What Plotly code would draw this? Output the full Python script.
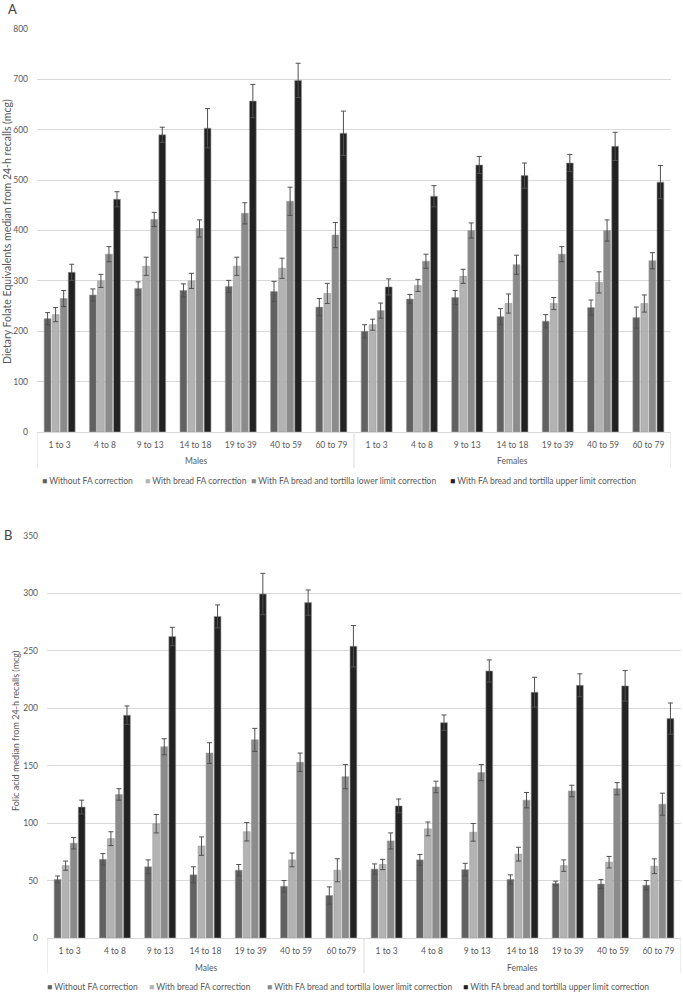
import plotly.graph_objects as go

W, H = 683, 992

ages = ["1 to 3", "4 to 8", "9 to 13", "14 to 18", "19 to 39", "40 to 59", "60 to 79"]
ages_b_males = ["1 to 3", "4 to 8", "9 to 13", "14 to 18", "19 to 39", "40 to 59", "60 to79"]
sexes = ["Males", "Females"]
series_names = [
    "Without FA correction",
    "With bread FA correction",
    "With FA bread and tortilla lower limit correction",
    "With FA bread and tortilla upper limit correction",
]
series_colors = ["#616161", "#b3b3b3", "#8b8b8b", "#222222"]

# Panel A: Dietary Folate Equivalents (mcg), Males then Females
dfe_without = [225, 272, 285, 281, 289, 279, 248, 200, 264, 267, 229, 220, 247, 227]
dfe_without_err = [12, 12, 13, 13, 12, 20, 17, 13, 9, 14, 16, 13, 15, 21]
dfe_bread = [233, 300, 329, 300, 329, 325, 275, 213, 291, 309, 255, 255, 297, 255]
dfe_bread_err = [14, 13, 18, 15, 18, 20, 20, 11, 12, 14, 19, 12, 21, 17]
dfe_lower = [265, 353, 422, 404, 434, 458, 391, 241, 339, 400, 332, 353, 400, 340]
dfe_lower_err = [16, 15, 14, 17, 21, 28, 25, 15, 14, 15, 19, 15, 21, 16]
dfe_upper = [317, 462, 590, 603, 657, 698, 593, 288, 468, 530, 509, 534, 567, 496]
dfe_upper_err = [16, 15, 15, 39, 33, 34, 44, 16, 21, 17, 25, 17, 28, 33]

# Panel B: Folic acid (mcg), Males then Females
fa_without = [51, 68.5, 62, 55, 59, 45, 37, 60, 68, 59.5, 51, 47.5, 47, 46]
fa_without_err = [3, 5, 6, 7, 5, 5, 7.5, 4.5, 4.7, 5.5, 4, 2, 4, 4]
fa_bread = [63, 86.5, 99.5, 80, 92.5, 68, 59, 64, 95, 92, 73, 63, 66, 62.5]
fa_bread_err = [4, 6, 8, 8, 8, 6, 10, 4.5, 6, 7.7, 6, 5, 5, 6.4]
fa_lower = [82.5, 125, 166.5, 161, 172.5, 153, 140.5, 84.5, 131.5, 144, 120, 128, 130, 116.5]
fa_lower_err = [5, 5, 7, 9, 10, 8, 10.5, 7, 5, 7, 6.7, 5, 5.3, 9.6]
fa_upper = [114, 194, 262.5, 280, 299.5, 292, 254, 115, 187.5, 232.5, 214, 220, 219.5, 191]
fa_upper_err = [6, 8, 8, 10, 18, 11, 18, 6, 6.7, 9.6, 13, 10, 13.3, 13.6]

FONT = "Lato"
TXT = "#595959"
GRID = "#d9d9d9"

n_per = len(ages)
xpos = list(range(len(sexes) * n_per))
ticks_a = ages + ages
ticks_b = ages_b_males + ages

fig = go.Figure()

panel_a = [(dfe_without, dfe_without_err), (dfe_bread, dfe_bread_err),
           (dfe_lower, dfe_lower_err), (dfe_upper, dfe_upper_err)]
panel_b = [(fa_without, fa_without_err), (fa_bread, fa_bread_err),
           (fa_lower, fa_lower_err), (fa_upper, fa_upper_err)]

for i, (vals, errs) in enumerate(panel_a):
    fig.add_trace(go.Bar(
        x=xpos, y=vals, name=series_names[i], marker_color=series_colors[i],
        marker_line=dict(width=0.6, color="#9a9a9a"),
        error_y=dict(type="data", array=errs, color="#505050", thickness=1, width=2.5),
        xaxis="x", yaxis="y", showlegend=False,
    ))
for i, (vals, errs) in enumerate(panel_b):
    fig.add_trace(go.Bar(
        x=xpos, y=vals, name=series_names[i], marker_color=series_colors[i],
        marker_line=dict(width=0.6, color="#9a9a9a"),
        error_y=dict(type="data", array=errs, color="#505050", thickness=1, width=2.5),
        xaxis="x2", yaxis="y2", showlegend=False,
    ))


def px(x):
    return x / W


def py(y):
    return 1 - y / H


tickfont = dict(family=FONT, size=8.5, color=TXT)
xrange = [-0.5, len(xpos) - 0.5]

A_TOP, A_BOT, A_L, A_R = 29, 432, 37, 671
B_TOP, B_BOT, B_L, B_R = 536, 938, 47, 681

fig.update_layout(
    width=W, height=H,
    margin=dict(l=0, r=0, t=0, b=0, autoexpand=False),
    paper_bgcolor="white", plot_bgcolor="white",
    barmode="group", bargap=0.29, bargroupgap=0.15,
    font=dict(family=FONT, size=8.5, color=TXT),
    xaxis=dict(domain=[px(A_L), px(A_R)], anchor="y", range=xrange,
               tickvals=xpos, ticktext=ticks_a,
               showgrid=False, showline=True, linecolor=GRID, linewidth=1,
               zeroline=False, tickfont=tickfont, ticks="", ticklabelstandoff=5),
    yaxis=dict(domain=[py(A_BOT), py(A_TOP)], anchor="x", range=[0, 800], dtick=100,
               showgrid=True, gridcolor=GRID, gridwidth=1, zeroline=False,
               tickfont=tickfont, ticklabelstandoff=8),
    xaxis2=dict(domain=[px(B_L), px(B_R)], anchor="y2", range=xrange,
                tickvals=xpos, ticktext=ticks_b,
                showgrid=False, showline=True, linecolor=GRID, linewidth=1,
                zeroline=False, tickfont=tickfont, ticks="", ticklabelstandoff=5),
    yaxis2=dict(domain=[py(B_BOT), py(B_TOP)], anchor="x2", range=[0, 350], dtick=50,
                showgrid=True, gridcolor=GRID, gridwidth=1, zeroline=False,
                tickfont=tickfont, ticklabelstandoff=8),
)

ann = []
shapes = []
ann.append(dict(text="A", x=px(6), y=py(9), xref="paper", yref="paper",
                xanchor="left", yanchor="middle", showarrow=False,
                font=dict(family=FONT, size=13, color="#404040")))
ann.append(dict(text="B", x=px(2), y=py(535), xref="paper", yref="paper",
                xanchor="left", yanchor="middle", showarrow=False,
                font=dict(family=FONT, size=13, color="#404040")))
ann.append(dict(text="Dietary Folate Equivalents median from 24-h recalls (mcg)",
                x=px(7), y=py(232), xref="paper", yref="paper", textangle=-90,
                xanchor="center", yanchor="middle", showarrow=False,
                font=dict(family=FONT, size=10.5, color=TXT)))
ann.append(dict(text="Folic acid median from 24-h recalls (mcg)",
                x=px(15), y=py(731), xref="paper", yref="paper", textangle=-90,
                xanchor="center", yanchor="middle", showarrow=False,
                font=dict(family=FONT, size=9, color=TXT)))

# group labels and dividers
for xa_name, bot, lab_y, div_len in (("x", A_BOT, 461, 36), ("x2", B_BOT, 968, 35)):
    for g, sex in enumerate(sexes):
        ann.append(dict(text=sex, x=g * n_per + (n_per - 1) / 2, y=py(lab_y),
                        xref=xa_name, yref="paper", xanchor="center", yanchor="middle",
                        showarrow=False, font=dict(family=FONT, size=8.5, color=TXT)))
    for g in range(len(sexes) + 1):
        xv = g * n_per - 0.5
        shapes.append(dict(type="line", xref=xa_name, yref="paper",
                           x0=xv, x1=xv, y0=py(bot), y1=py(bot + div_len),
                           line=dict(color=GRID, width=1)))

legend_a_x = [40, 143, 249, 448]
legend_b_x = [45, 147, 265, 461]
for xs, ypos in ((legend_a_x, 481), (legend_b_x, 987)):
    for i, name in enumerate(series_names):
        ann.append(dict(
            text=f'<span style="color:{series_colors[i]}">■</span> {name}',
            x=px(xs[i]), y=py(ypos), xref="paper", yref="paper",
            xanchor="left", yanchor="middle", showarrow=False,
            font=dict(family=FONT, size=8.5, color=TXT)))

fig.update_layout(annotations=ann, shapes=shapes)

# remove the browser's default page margin so the figure sits at the top-left corner
fig.write_html("out.html", config={"displayModeBar": False},
               post_script="document.body.style.margin='0';")
